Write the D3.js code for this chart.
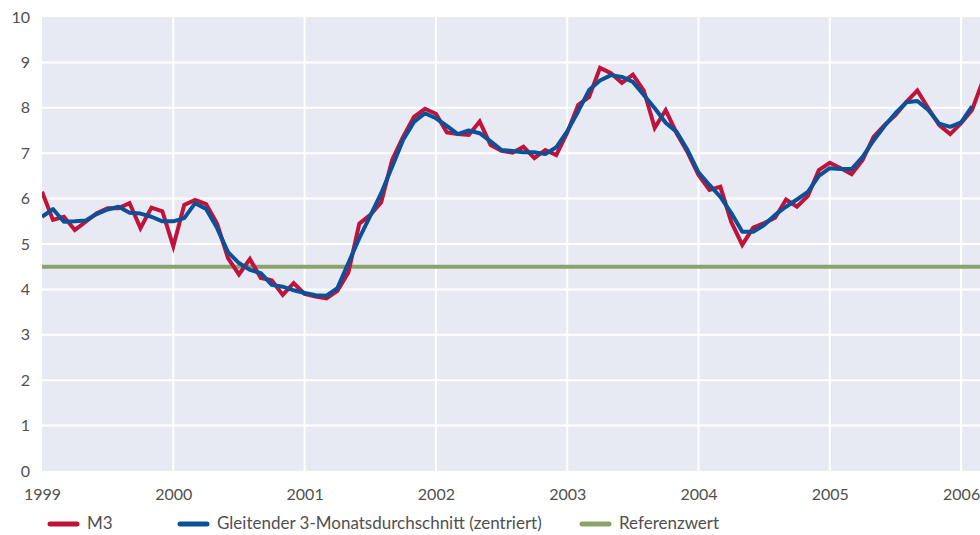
<!DOCTYPE html>
<html><head><meta charset="utf-8">
<script src="https://cdn.jsdelivr.net/npm/d3@7"></script>
<style>
html,body{margin:0;padding:0;background:#fff;}
svg{display:block;font-family:Lato,"Open Sans",sans-serif;}
</style></head>
<body><svg id="c" width="980" height="535"></svg>
<script>
const yearTicks = [1999,2000,2001,2002,2003,2004,2005,2006];
const yTicks = [0,1,2,3,4,5,6,7,8,9,10];
// M3 annual growth, monthly from Jan 1999
const m3 = [
 6.15,5.53,5.6,5.31,5.49,5.68,5.79,5.79,5.9,5.35,5.8,5.72,
 4.95,5.86,5.97,5.88,5.45,4.69,4.33,4.67,4.25,4.2,3.88,4.14,
 3.9,3.84,3.8,3.97,4.37,5.45,5.64,5.92,6.85,7.36,7.8,7.98,
 7.87,7.46,7.42,7.4,7.7,7.18,7.05,7.01,7.14,6.89,7.07,6.96,
 7.45,8.06,8.24,8.88,8.76,8.55,8.73,8.38,7.56,7.95,7.44,7.02,
 6.52,6.19,6.26,5.48,4.98,5.36,5.46,5.58,5.98,5.82,6.06,6.63,
 6.79,6.67,6.54,6.85,7.36,7.62,7.84,8.13,8.38,7.99,7.62,7.42,
 7.66,7.95,8.6
];
// centred 3-month moving average, monthly from Jan 1999
const avg3 = [
 5.6,5.77,5.49,5.5,5.52,5.66,5.76,5.82,5.69,5.67,5.6,5.5,
 5.5,5.57,5.9,5.77,5.35,4.82,4.58,4.43,4.36,4.1,4.06,3.98,
 3.92,3.87,3.86,4.03,4.58,5.13,5.62,6.12,6.7,7.29,7.69,7.88,
 7.77,7.6,7.42,7.5,7.44,7.26,7.07,7.05,7.02,7.02,6.98,7.13,
 7.48,7.92,8.39,8.6,8.72,8.68,8.57,8.28,7.99,7.67,7.47,7.07,
 6.58,6.3,6.04,5.68,5.27,5.27,5.42,5.64,5.82,5.98,6.15,6.5,
 6.67,6.65,6.65,6.92,7.28,7.6,7.88,8.12,8.15,7.95,7.65,7.58,
 7.68,8.03
];
const referenceValue = 4.5;
const legendLabels = ["M3","Gleitender 3-Monatsdurchschnitt (zentriert)","Referenzwert"];
const colors = {m3:"#c0133b", avg:"#0a5198", ref:"#8aa36b"};

const svg = d3.select("#c");
const L=42, R=980, T=17, B=471;
const x = d3.scaleLinear().domain([1999, 1999+(R-L)/131.3]).range([L,R]);
const y = d3.scaleLinear().domain([0,10]).range([B,T]);
const t = i => 1999 + i/12;

svg.append("rect").attr("x",L).attr("y",T).attr("width",R-L).attr("height",B-T).attr("fill","#e7eaf3");
svg.append("defs").append("clipPath").attr("id","cp").append("rect")
  .attr("x",L).attr("y",T-5).attr("width",R-L).attr("height",B-T+5);

const g = svg.append("g");
g.selectAll(".hg").data(yTicks.filter(v=>v>0 && v<10)).join("line")
  .attr("x1",L).attr("x2",R).attr("y1",d=>y(d)).attr("y2",d=>y(d))
  .attr("stroke","#fff").attr("stroke-width",2);
g.selectAll(".vg").data(yearTicks.filter(v=>v>1999)).join("line")
  .attr("x1",d=>x(d)).attr("x2",d=>x(d)).attr("y1",T).attr("y2",B)
  .attr("stroke","#fff").attr("stroke-width",2);

const ya = d3.axisLeft(y).tickValues(yTicks).tickSize(0).tickPadding(12).tickFormat(d3.format("d"));
const yg = svg.append("g").attr("transform",`translate(${L},0)`).call(ya);
yg.select(".domain").remove();
yg.selectAll("text").attr("font-size",16).attr("fill","#505050").attr("font-family","Lato,'Open Sans',sans-serif");

const xa = d3.axisBottom(x).tickValues(yearTicks).tickSize(0).tickPadding(18).tickFormat(d3.format("d"));
const xg = svg.append("g").attr("transform",`translate(0,${B})`).call(xa);
xg.select(".domain").remove();
xg.selectAll("text").attr("font-size",16).attr("fill","#505050").attr("font-family","Lato,'Open Sans',sans-serif");

const lines = svg.append("g").attr("clip-path","url(#cp)");
lines.append("line").attr("x1",L).attr("x2",R).attr("y1",y(referenceValue)).attr("y2",y(referenceValue))
  .attr("stroke",colors.ref).attr("stroke-width",4);
const line = d3.line().x((d,i)=>x(t(i))).y(d=>y(d));
lines.append("path").datum(m3).attr("d",line).attr("fill","none")
  .attr("stroke",colors.m3).attr("stroke-width",4).attr("stroke-linejoin","miter");
lines.append("path").datum(avg3).attr("d",line).attr("fill","none")
  .attr("stroke",colors.avg).attr("stroke-width",4).attr("stroke-linejoin","round");

const leg = [{c:colors.m3,x:50},{c:colors.avg,x:180},{c:colors.ref,x:582}];
leg.forEach((d,i)=>{
  svg.append("line").attr("x1",d.x).attr("x2",d.x+27).attr("y1",524).attr("y2",524)
    .attr("stroke",d.c).attr("stroke-width",5).attr("stroke-linecap","round");
  svg.append("text").attr("x",d.x+37).attr("y",529).attr("font-size",17).attr("fill","#505050")
    .text(legendLabels[i]);
});
</script></body></html>
